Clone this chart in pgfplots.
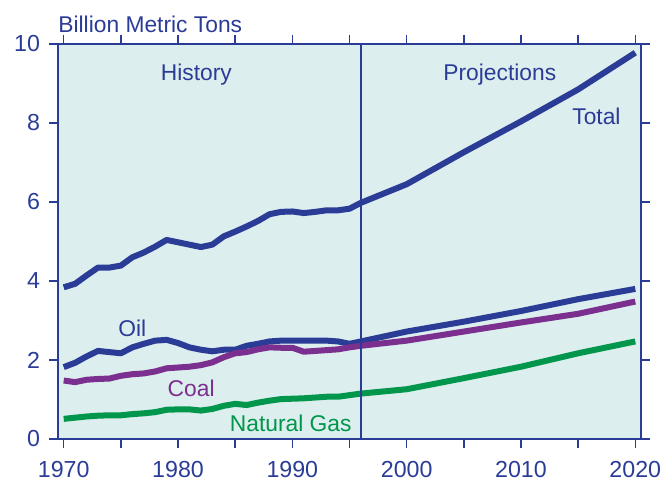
\documentclass[border=0pt]{standalone}
\usepackage{fontspec}
\setmainfont{Liberation Sans}
\usepackage{pgfplots}
\pgfplotsset{compat=1.18}
\definecolor{eiablue}{HTML}{2B3C97}
\definecolor{coalpurple}{HTML}{7B2F8F}
\definecolor{gasgreen}{HTML}{00964B}
\definecolor{bgcol}{HTML}{DDEEEE}
\begin{document}
\begin{tikzpicture}
\begin{axis}[
    name=ax,
    scale only axis,
    width=291.5pt, height=197.5pt,
    xmin=1969.5, xmax=2020.5,
    ymin=0, ymax=10,
    clip=false,
    xtick={1970,1980,...,2020},
    minor xtick={1975,1985,...,2015},
    ytick={0,2,...,10},
    tick align=outside,
    major tick length=4.5pt,
    minor tick length=4.5pt,
    tick style={draw=eiablue, line width=0.7pt},
    axis line style={draw=eiablue, line width=0.7pt},
    axis background/.style={fill=bgcol},
    font=\fontsize{11.4}{13}\selectfont,
    tick label style={text=eiablue, font=\fontsize{11.6}{13}\selectfont},
    /pgf/number format/assume math mode=true,
    /pgf/number format/1000 sep={},
    xticklabel style={yshift=-3pt},
    yticklabel style={xshift=-1pt},
    every axis plot/.append style={line width=3pt, line join=round},
]
% Total
\addplot[eiablue] coordinates {
    (1970,3.84)(1971,3.93)(1972,4.14)(1973,4.34)(1974,4.34)(1975,4.39)
    (1976,4.60)(1977,4.72)(1978,4.87)(1979,5.04)(1980,4.98)(1981,4.92)
    (1982,4.86)(1983,4.92)(1984,5.13)(1985,5.25)(1986,5.38)(1987,5.52)
    (1988,5.69)(1989,5.75)(1990,5.76)(1991,5.72)(1992,5.75)(1993,5.79)
    (1994,5.79)(1995,5.83)(1996,5.98)(2000,6.45)(2005,7.26)(2010,8.04)
    (2015,8.85)(2020,9.78)
};
% Oil
\addplot[eiablue] coordinates {
    (1970,1.82)(1971,1.93)(1972,2.09)(1973,2.23)(1974,2.20)(1975,2.17)
    (1976,2.32)(1977,2.41)(1978,2.49)(1979,2.51)(1980,2.43)(1981,2.32)
    (1982,2.26)(1983,2.22)(1984,2.26)(1985,2.26)(1986,2.36)(1987,2.41)
    (1988,2.47)(1989,2.49)(1990,2.49)(1991,2.49)(1992,2.49)(1993,2.49)
    (1994,2.47)(1995,2.41)(1996,2.47)(2000,2.72)(2005,2.97)(2010,3.24)
    (2015,3.54)(2020,3.80)
};
% Coal
\addplot[coalpurple] coordinates {
    (1970,1.48)(1971,1.44)(1972,1.50)(1973,1.52)(1974,1.53)(1975,1.60)
    (1976,1.64)(1977,1.66)(1978,1.71)(1979,1.79)(1980,1.81)(1981,1.83)
    (1982,1.87)(1983,1.94)(1984,2.07)(1985,2.17)(1986,2.20)(1987,2.27)
    (1988,2.32)(1989,2.31)(1990,2.31)(1991,2.21)(1992,2.23)(1993,2.25)
    (1994,2.27)(1995,2.32)(1996,2.36)(2000,2.49)(2005,2.72)(2010,2.95)
    (2015,3.17)(2020,3.48)
};
% Natural gas
\addplot[gasgreen] coordinates {
    (1970,0.51)(1971,0.54)(1972,0.57)(1973,0.59)(1974,0.60)(1975,0.60)
    (1976,0.63)(1977,0.65)(1978,0.68)(1979,0.74)(1980,0.75)(1981,0.75)
    (1982,0.72)(1983,0.76)(1984,0.84)(1985,0.89)(1986,0.86)(1987,0.92)
    (1988,0.97)(1989,1.01)(1990,1.02)(1991,1.03)(1992,1.05)(1993,1.07)
    (1994,1.07)(1995,1.11)(1996,1.15)(2000,1.26)(2005,1.54)(2010,1.83)
    (2015,2.17)(2020,2.47)
};
% history / projections divider
\addplot[eiablue, line width=0.8pt] coordinates {(1996,0)(1996,10)};
\node[text=eiablue] at (axis cs:1981.6,9.23) {History};
\node[text=eiablue] at (axis cs:2008.15,9.23) {Projections};
\node[text=eiablue] at (axis cs:2016.6,8.17) {Total};
\node[text=eiablue] at (axis cs:1976.0,2.81) {Oil};
\node[text=coalpurple] at (axis cs:1981.15,1.29) {Coal};
\node[text=gasgreen] at (axis cs:1989.86,0.40) {Natural Gas};
\node[text=eiablue, anchor=south west, inner sep=0pt, yshift=5.5pt] at (rel axis cs:0,1) {Billion Metric Tons};
\end{axis}
\pgfresetboundingbox
\path[use as bounding box] (ax.south west) ++(-29pt,-21.5pt) rectangle ++(331pt,241pt);
\end{tikzpicture}
\end{document}
